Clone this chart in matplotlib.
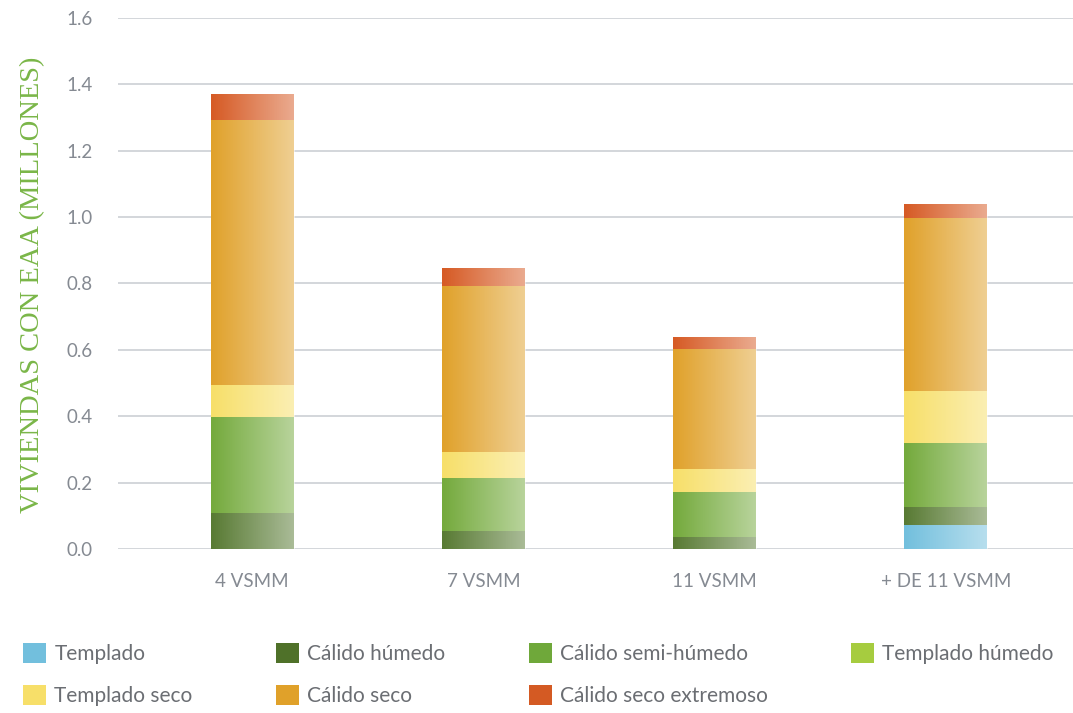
import matplotlib
matplotlib.use("Agg")
import matplotlib.pyplot as plt
import numpy as np
from matplotlib.patches import Patch, Rectangle

categories = ["4 VSMM", "7 VSMM", "11 VSMM", "+ DE 11 VSMM"]
series_names = ["Templado", "Cálido húmedo", "Cálido semi-húmedo", "Templado húmedo",
                "Templado seco", "Cálido seco", "Cálido seco extremoso"]
templado = [0.0, 0.0, 0.0, 0.072]
calido_humedo = [0.109, 0.054, 0.037, 0.055]
calido_semi_humedo = [0.290, 0.159, 0.136, 0.191]
templado_humedo = [0.0, 0.0, 0.0, 0.0]
templado_seco = [0.095, 0.080, 0.068, 0.157]
calido_seco = [0.798, 0.500, 0.362, 0.522]
calido_seco_extremoso = [0.078, 0.053, 0.037, 0.042]
y_ticks = [0.0, 0.2, 0.4, 0.6, 0.8, 1.0, 1.2, 1.4, 1.6]

series = [templado, calido_humedo, calido_semi_humedo, templado_humedo,
          templado_seco, calido_seco, calido_seco_extremoso]
colors = ["#72bfdd", "#587a33", "#74aa3c", "#a6cc3f", "#f7df69", "#e0a12a", "#d65a24"]
legend_colors = ["#72bfdd", "#4f7129", "#6fa83a", "#a6cc3f", "#f7df69", "#e0a12a", "#d45a23"]

fig = plt.figure(figsize=(10.73, 7.13), dpi=100)
ax = fig.add_axes([0.110, 0.230, 0.890, 0.745])

x = np.arange(len(categories))
width = 0.36
bottom = np.zeros(len(categories))
for vals, col in zip(series, colors):
    vals = np.array(vals)
    ax.bar(x, vals, width, bottom=bottom, color=col, linewidth=0, zorder=2)
    bottom += vals

# white horizontal gradient overlay on each bar
grad = np.zeros((2, 256, 4))
grad[..., :3] = 1.0
grad[..., 3] = np.linspace(0.0, 0.5, 256)[None, :]
for i, xi in enumerate(x):
    im = ax.imshow(grad, extent=(xi - width / 2, xi + width / 2, 0, bottom[i]),
                   aspect="auto", zorder=3, interpolation="bilinear")
    clip = Rectangle((xi - width / 2, 0), width, bottom[i], transform=ax.transData)
    im.set_clip_path(clip)

ax.set_xlim(-0.58, 3.55)
ax.set_ylim(0, 1.6)
ax.set_yticks(y_ticks)
ax.set_yticklabels([f"{v:.1f}" for v in y_ticks])
ax.set_xticks(x)
ax.set_xticklabels(categories)
ax.grid(axis="y", color="#d3d6db", linewidth=1.4, zorder=0)
ax.set_axisbelow(True)
for s in ax.spines.values():
    s.set_visible(False)
ax.tick_params(axis="both", length=0, labelsize=13.5)
ax.tick_params(axis="y", pad=18)
ax.tick_params(axis="x", pad=17)
for lab in ax.get_xticklabels() + ax.get_yticklabels():
    lab.set_fontfamily("Lato")
    lab.set_color("#858a92")

fig.text(0.030, 0.60, "VIVIENDAS CON EAA (MILLONES)", rotation=90, va="center", ha="center",
         fontsize=20.5, color="#7ab648", family="Liberation Serif")

order = [0, 4, 1, 5, 2, 6, 3]
handles = [Patch(facecolor=legend_colors[i], edgecolor="none") for i in order]
labels = [series_names[i] for i in order]
leg = fig.legend(handles, labels, ncol=4, loc="lower left", bbox_to_anchor=(0.004, -0.016),
                 frameon=False, handlelength=1.1, handleheight=1.1, handletextpad=0.4,
                 columnspacing=4.0, labelspacing=1.0, prop={"family": "Lato", "size": 15})
for t in leg.get_texts():
    t.set_color("#6b6e73")

fig.savefig("out.png", dpi=100)
